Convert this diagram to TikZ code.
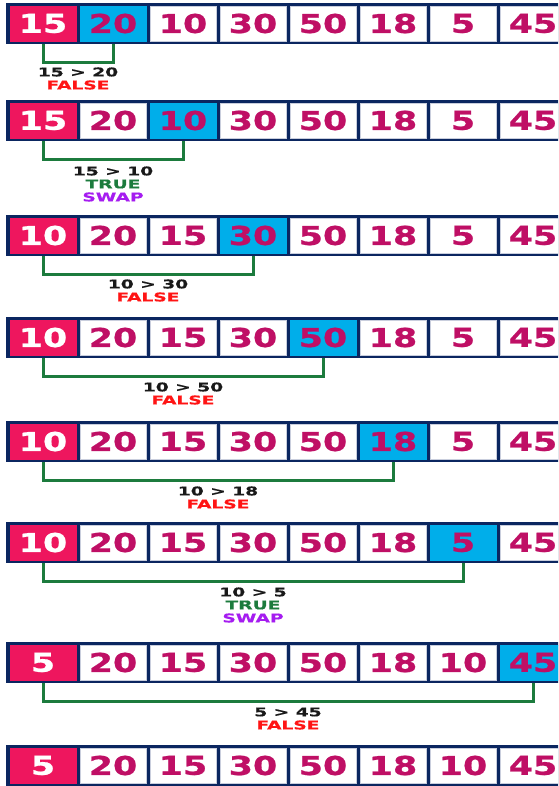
\documentclass[tikz,border=0pt]{standalone}
\usepackage{fontspec}
\usepackage{graphicx}
\setmainfont{DejaVu Sans}
\newfontfamily\numfont[FakeBold=0.8]{DejaVu Sans Bold}
\newfontfamily\lblfont[FakeBold=0.6]{DejaVu Sans Bold}
\definecolor{navy}{HTML}{0B2660}
\definecolor{cellred}{HTML}{EE165E}
\definecolor{cellcyan}{HTML}{00AEEA}
\definecolor{numcol}{HTML}{BF0F65}
\definecolor{lightedge}{HTML}{C9CEDD}
\definecolor{brgreen}{HTML}{1C7B3D}
\definecolor{falsered}{HTML}{FF1414}
\definecolor{truegreen}{HTML}{1C7B3D}
\definecolor{swappurple}{HTML}{A51CF0}
\newcommand\numtxt[1]{\scalebox{1.34}[1]{\fontsize{26}{26}\numfont #1}}
\newcommand\lbltxt[1]{\scalebox{1.55}[1]{\fontsize{12}{12}\lblfont #1}}
\tikzset{
  frame/.style={fill=navy, minimum width=564pt, minimum height=41pt, inner sep=0pt, anchor=north west},
  cell/.style={fill=white, draw=lightedge, line width=0.8pt, minimum width=66pt, minimum height=35pt, inner sep=0pt, text=numcol},
  hot/.style={fill=cellred, draw=cellred, text=white},
  cur/.style={fill=cellcyan, draw=cellcyan},
  bracket/.style={draw=brgreen, line width=3pt},
  lbl/.style={inner sep=0pt},
  cmp/.style={text=black!90},
  fls/.style={text=falsered},
  tru/.style={text=truegreen},
  swp/.style={text=swappurple}
}
% #1 row name, #2 top y, #3 values, #4 index of cyan cell
\newcommand\arrayrow[4]{%
  \node[frame] (#1f) at (6,#2) {};
  \foreach \v [count=\k from 0] in {#3} {
    \pgfmathsetmacro\cx{43+70*\k}
    \ifnum\k=0
      \node[cell,hot] (#1c\k) at (\cx,#2+20.5) {\numtxt{\v}};
    \else\ifnum\k=#4
      \node[cell,cur] (#1c\k) at (\cx,#2+20.5) {\numtxt{\v}};
    \else
      \node[cell] (#1c\k) at (\cx,#2+20.5) {\numtxt{\v}};
    \fi\fi
  }
}
\newcommand\brk[2]{%
  \draw[bracket] ([yshift=-3pt]#1c0.south) -- ++(0,18) -| ([yshift=-3pt]#1c#2.south);
}
\begin{document}
\begin{tikzpicture}[x=1pt,y=-1pt]
\useasboundingbox (0,0) rectangle (558,786);
\clip (0,0) rectangle (558,786);

\arrayrow{a}{3}{15,20,10,30,50,18,5,45}{1}
\arrayrow{b}{100}{15,20,10,30,50,18,5,45}{2}
\arrayrow{c}{215}{10,20,15,30,50,18,5,45}{3}
\arrayrow{d}{317}{10,20,15,30,50,18,5,45}{4}
\arrayrow{e}{421}{10,20,15,30,50,18,5,45}{5}
\arrayrow{f}{522}{10,20,15,30,50,18,5,45}{6}
\arrayrow{g}{642}{5,20,15,30,50,18,10,45}{7}
\arrayrow{h}{745}{5,20,15,30,50,18,10,45}{-1}

\brk{a}{1}
\brk{b}{2}
\brk{c}{3}
\brk{d}{4}
\brk{e}{5}
\brk{f}{6}
\brk{g}{7}

% labels
\node[lbl,cmp] (a1) at (78,72) {\lbltxt{15 > 20}};
\node[lbl,fls] (a2) at (78,85) {\lbltxt{FALSE}};

\node[lbl,cmp] (b1) at (113,171) {\lbltxt{15 > 10}};
\node[lbl,tru] (b2) at (113,184) {\lbltxt{TRUE}};
\node[lbl,swp] (b3) at (113,197) {\lbltxt{SWAP}};

\node[lbl,cmp] (c1) at (148,284) {\lbltxt{10 > 30}};
\node[lbl,fls] (c2) at (148,297) {\lbltxt{FALSE}};

\node[lbl,cmp] (d1) at (183,387) {\lbltxt{10 > 50}};
\node[lbl,fls] (d2) at (183,400) {\lbltxt{FALSE}};

\node[lbl,cmp] (e1) at (218,491) {\lbltxt{10 > 18}};
\node[lbl,fls] (e2) at (218,504) {\lbltxt{FALSE}};

\node[lbl,cmp] (f1) at (253,592) {\lbltxt{10 > 5}};
\node[lbl,tru] (f2) at (253,605) {\lbltxt{TRUE}};
\node[lbl,swp] (f3) at (253,618) {\lbltxt{SWAP}};

\node[lbl,cmp] (g1) at (288,712) {\lbltxt{5 > 45}};
\node[lbl,fls] (g2) at (288,725) {\lbltxt{FALSE}};
\end{tikzpicture}
\end{document}
